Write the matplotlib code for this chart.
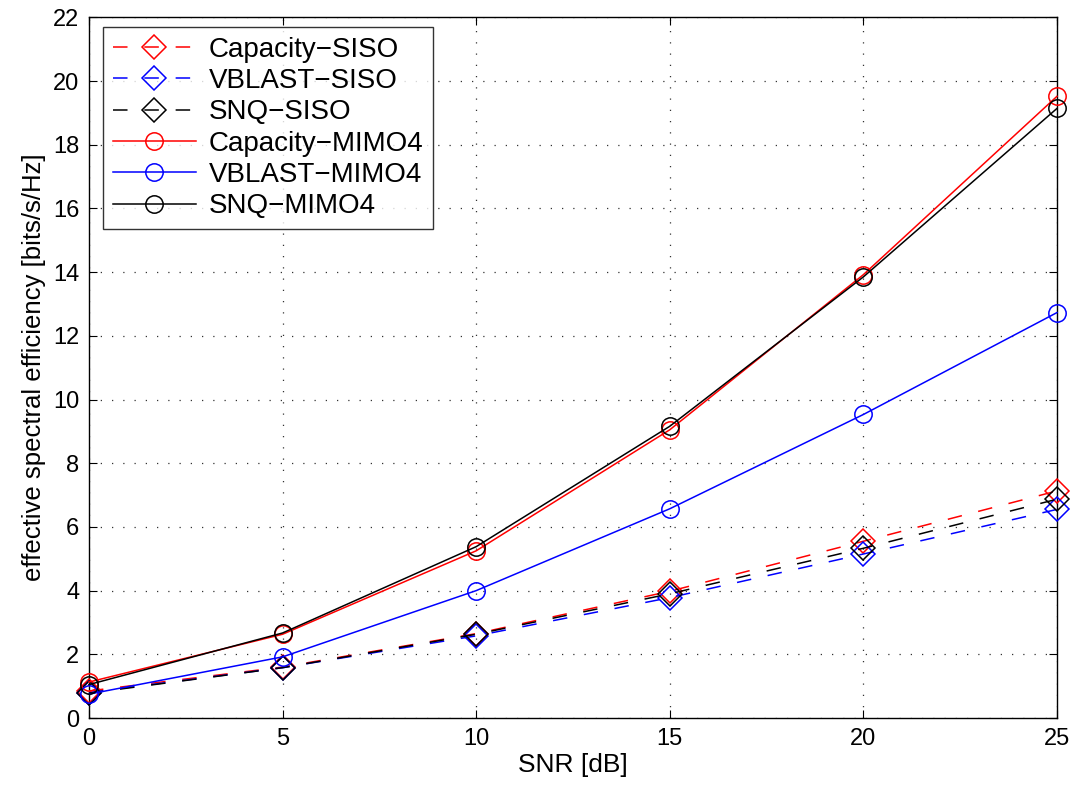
import matplotlib
matplotlib.use("Agg")
import matplotlib.pyplot as plt

snr = [0, 5, 10, 15, 20, 25]
cap_siso = [0.85, 1.60, 2.65, 3.98, 5.55, 7.13]
vblast_siso = [0.80, 1.58, 2.58, 3.78, 5.15, 6.55]
snq_siso = [0.78, 1.58, 2.63, 3.90, 5.33, 6.87]
cap_mimo = [1.13, 2.63, 5.25, 9.05, 13.92, 19.52]
vblast_mimo = [0.75, 1.92, 4.00, 6.57, 9.53, 12.73]
snq_mimo = [1.05, 2.67, 5.38, 9.16, 13.85, 19.14]

labels = ["Capacity\u2212SISO", "VBLAST\u2212SISO", "SNQ\u2212SISO",
          "Capacity\u2212MIMO4", "VBLAST\u2212MIMO4", "SNQ\u2212MIMO4"]
xticks = [0, 5, 10, 15, 20, 25]
yticks = list(range(0, 23, 2))

plt.rcParams['font.family'] = ['Liberation Sans', 'DejaVu Sans']
fig = plt.figure(figsize=(10.77, 7.88), dpi=100)
ax = fig.add_axes([0.0826, 0.0888, 0.8988, 0.8892])

red, blue, black = '#ff0000', '#0000ff', '#000000'
dash = (0, (9.5, 11))
common = dict(lw=1.1, mfc='none', mew=1.1, clip_on=False, zorder=3)
ax.plot(snr, cap_siso, color=red, ls=dash, marker='D', ms=12, label=labels[0], **common)
ax.plot(snr, vblast_siso, color=blue, ls=dash, marker='D', ms=12, label=labels[1], **common)
ax.plot(snr, snq_siso, color=black, ls=dash, marker='D', ms=12, label=labels[2], **common)
ax.plot(snr, cap_mimo, color=red, ls='-', marker='o', ms=12.5, label=labels[3], **common)
ax.plot(snr, vblast_mimo, color=blue, ls='-', marker='o', ms=12.5, label=labels[4], **common)
ax.plot(snr, snq_mimo, color=black, ls='-', marker='o', ms=12.5, label=labels[5], **common)

ax.set_xlim(0, 25)
ax.set_ylim(0, 22)
ax.set_xticks(xticks)
ax.set_yticks(yticks)
ax.tick_params(direction='in', labelsize=17, length=6, top=True, right=True, pad=7)
ax.grid(True, color='#333333', ls=(0, (1, 8)), lw=0.9)
ax.set_xlabel("SNR [dB]", fontsize=19, labelpad=2)
ax.set_ylabel("effective spectral efficiency [bits/s/Hz]", fontsize=18.5, labelpad=5)
for s in ax.spines.values():
    s.set_linewidth(1)

leg = ax.legend(loc='upper left', bbox_to_anchor=(0.0145, 0.986), fontsize=20, frameon=True,
                fancybox=False, edgecolor='black', handlelength=3.0, handletextpad=0.45,
                borderpad=0.35, labelspacing=0.19, borderaxespad=0)
leg.get_frame().set_linewidth(1)

fig.savefig("out.png", dpi=100)
